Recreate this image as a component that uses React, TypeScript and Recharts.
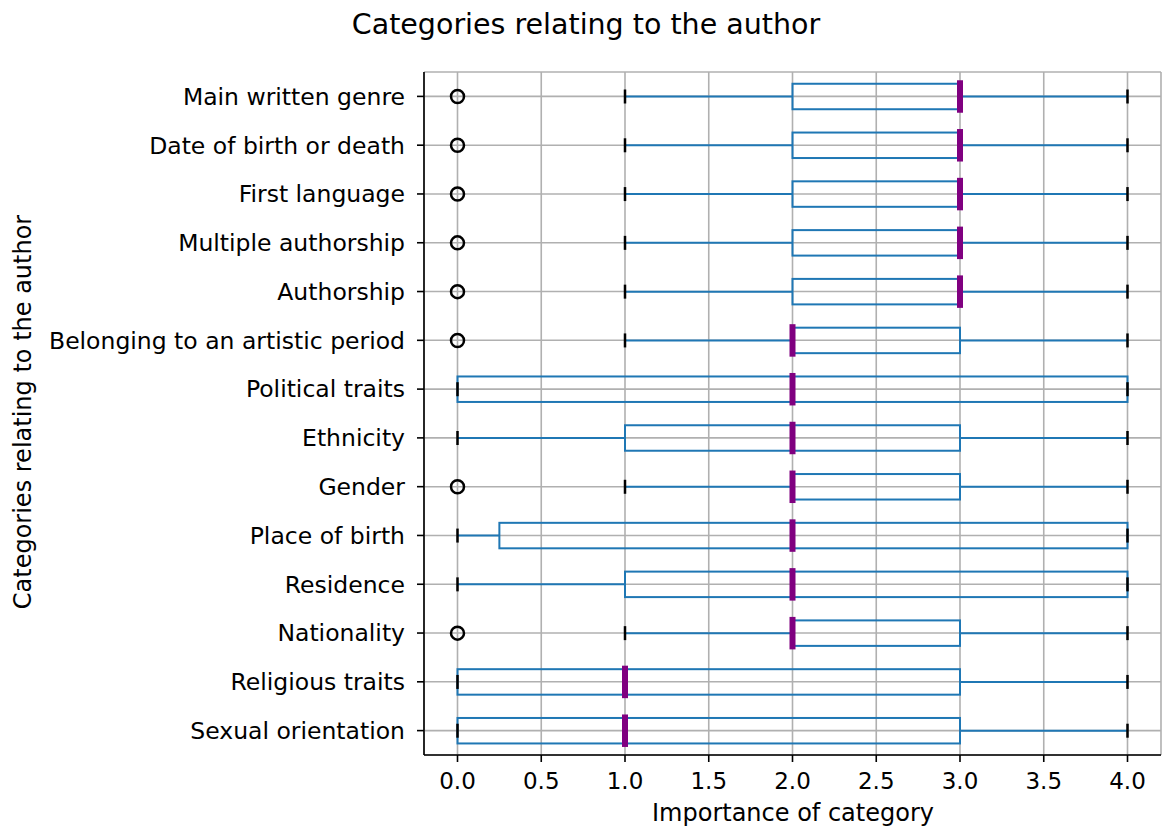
import React from 'react';
import { ComposedChart, Bar, XAxis, YAxis, CartesianGrid } from 'recharts';

const categories = [
  'Main written genre',
  'Date of birth or death',
  'First language',
  'Multiple authorship',
  'Authorship',
  'Belonging to an artistic period',
  'Political traits',
  'Ethnicity',
  'Gender',
  'Place of birth',
  'Residence',
  'Nationality',
  'Religious traits',
  'Sexual orientation',
];
const whiskerLow = [1, 1, 1, 1, 1, 1, 0, 0, 1, 0, 0, 1, 0, 0];
const q1 = [2, 2, 2, 2, 2, 2, 0, 1, 2, 0.25, 1, 2, 0, 0];
const median = [3, 3, 3, 3, 3, 2, 2, 2, 2, 2, 2, 2, 1, 1];
const q3 = [3, 3, 3, 3, 3, 3, 4, 3, 3, 4, 4, 3, 3, 3];
const whiskerHigh = [4, 4, 4, 4, 4, 4, 4, 4, 4, 4, 4, 4, 4, 4];
const outliers: number[][] = [[0], [0], [0], [0], [0], [0], [], [], [0], [], [], [0], [], []];
const xTicks = [0, 0.5, 1, 1.5, 2, 2.5, 3, 3.5, 4];

const data = categories.map((name, i) => ({
  name,
  range: [whiskerLow[i], whiskerHigh[i]],
  low: whiskerLow[i],
  high: whiskerHigh[i],
  q1: q1[i],
  median: median[i],
  q3: q3[i],
  outliers: outliers[i],
}));

const BLUE = '#1f77b4';
const PURPLE = '#800080';

const BoxShape = (props: any) => {
  const { x, y, width, height, payload } = props;
  const lo = payload.low;
  const hi = payload.high;
  const ppu = width / (hi - lo);
  const sx = (v: number) => x + (v - lo) * ppu;
  const cy = y + height / 2;
  const bh = height * 0.52;
  const capH = 14;
  const bx1 = sx(payload.q1);
  const bx2 = sx(payload.q3);
  return (
    <g>
      <rect x={bx1} y={cy - bh / 2} width={bx2 - bx1} height={bh} fill="none" stroke={BLUE} strokeWidth={2} />
      {payload.q1 > lo && <line x1={sx(lo)} x2={bx1} y1={cy} y2={cy} stroke={BLUE} strokeWidth={2} />}
      {payload.q3 < hi && <line x1={bx2} x2={sx(hi)} y1={cy} y2={cy} stroke={BLUE} strokeWidth={2} />}
      <line x1={sx(lo)} x2={sx(lo)} y1={cy - capH / 2} y2={cy + capH / 2} stroke="#000" strokeWidth={2.5} />
      <line x1={sx(hi)} x2={sx(hi)} y1={cy - capH / 2} y2={cy + capH / 2} stroke="#000" strokeWidth={2.5} />
      <rect x={sx(payload.median) - 3} y={cy - bh / 2 - 3.5} width={6} height={bh + 7} fill={PURPLE} />
      {payload.outliers.map((o: number, k: number) => (
        <circle key={k} cx={sx(o)} cy={cy} r={6.5} fill="none" stroke="#000" strokeWidth={2.5} />
      ))}
    </g>
  );
};

const FONT = '"DejaVu Sans", sans-serif';

export default function App() {
  return (
    <div style={{ position: 'absolute', left: 0, top: 0, width: 1162, height: 829, background: '#fff' }}>
      <ComposedChart
        width={1162}
        height={829}
        data={data}
        layout="vertical"
        margin={{ top: 72, right: 1, bottom: 0, left: 0 }}
        barCategoryGap={0}
        style={{ fontFamily: FONT }}
      >
        <CartesianGrid stroke="#b0b0b0" strokeWidth={1.6} />
        <XAxis
          type="number"
          dataKey="high"
          domain={[-0.2, 4.2]}
          ticks={xTicks}
          tickFormatter={(v: number) => v.toFixed(1)}
          height={74}
          tickSize={7}
          tickMargin={11}
          stroke="#000"
          strokeWidth={1.6}
          tick={{ fill: '#000', fontSize: 23, fontFamily: FONT }}
          allowDataOverflow
        />
        <XAxis
          xAxisId="top"
          orientation="top"
          type="number"
          domain={[-0.2, 4.2]}
          height={0}
          tick={false}
          tickLine={false}
          stroke="#000"
          strokeWidth={1.6}
        />
        <YAxis
          type="category"
          dataKey="name"
          width={424}
          tickSize={7}
          tickMargin={12}
          stroke="#000"
          strokeWidth={1.6}
          interval={0}
          tick={{ fill: '#000', fontSize: 23.5, fontFamily: FONT }}
        />
        <YAxis
          yAxisId="right"
          orientation="right"
          type="category"
          dataKey="name"
          width={0}
          tick={false}
          tickLine={false}
          stroke="#000"
          strokeWidth={1.6}
        />
        <Bar dataKey="range" shape={BoxShape} isAnimationActive={false} />
      </ComposedChart>
      <svg width={1162} height={829} style={{ position: 'absolute', left: 0, top: 0, pointerEvents: 'none' }}>
        <text x={586} y={34} textAnchor="middle" fontSize={28.5} fontFamily={FONT} fill="#000">
          Categories relating to the author
        </text>
        <text x={793} y={821} textAnchor="middle" fontSize={24} fontFamily={FONT} fill="#000">
          Importance of category
        </text>
        <text
          x={0}
          y={0}
          transform="translate(31, 412) rotate(-90)"
          textAnchor="middle"
          fontSize={24}
          fontFamily={FONT}
          fill="#000"
        >
          Categories relating to the author
        </text>
      </svg>
    </div>
  );
}
